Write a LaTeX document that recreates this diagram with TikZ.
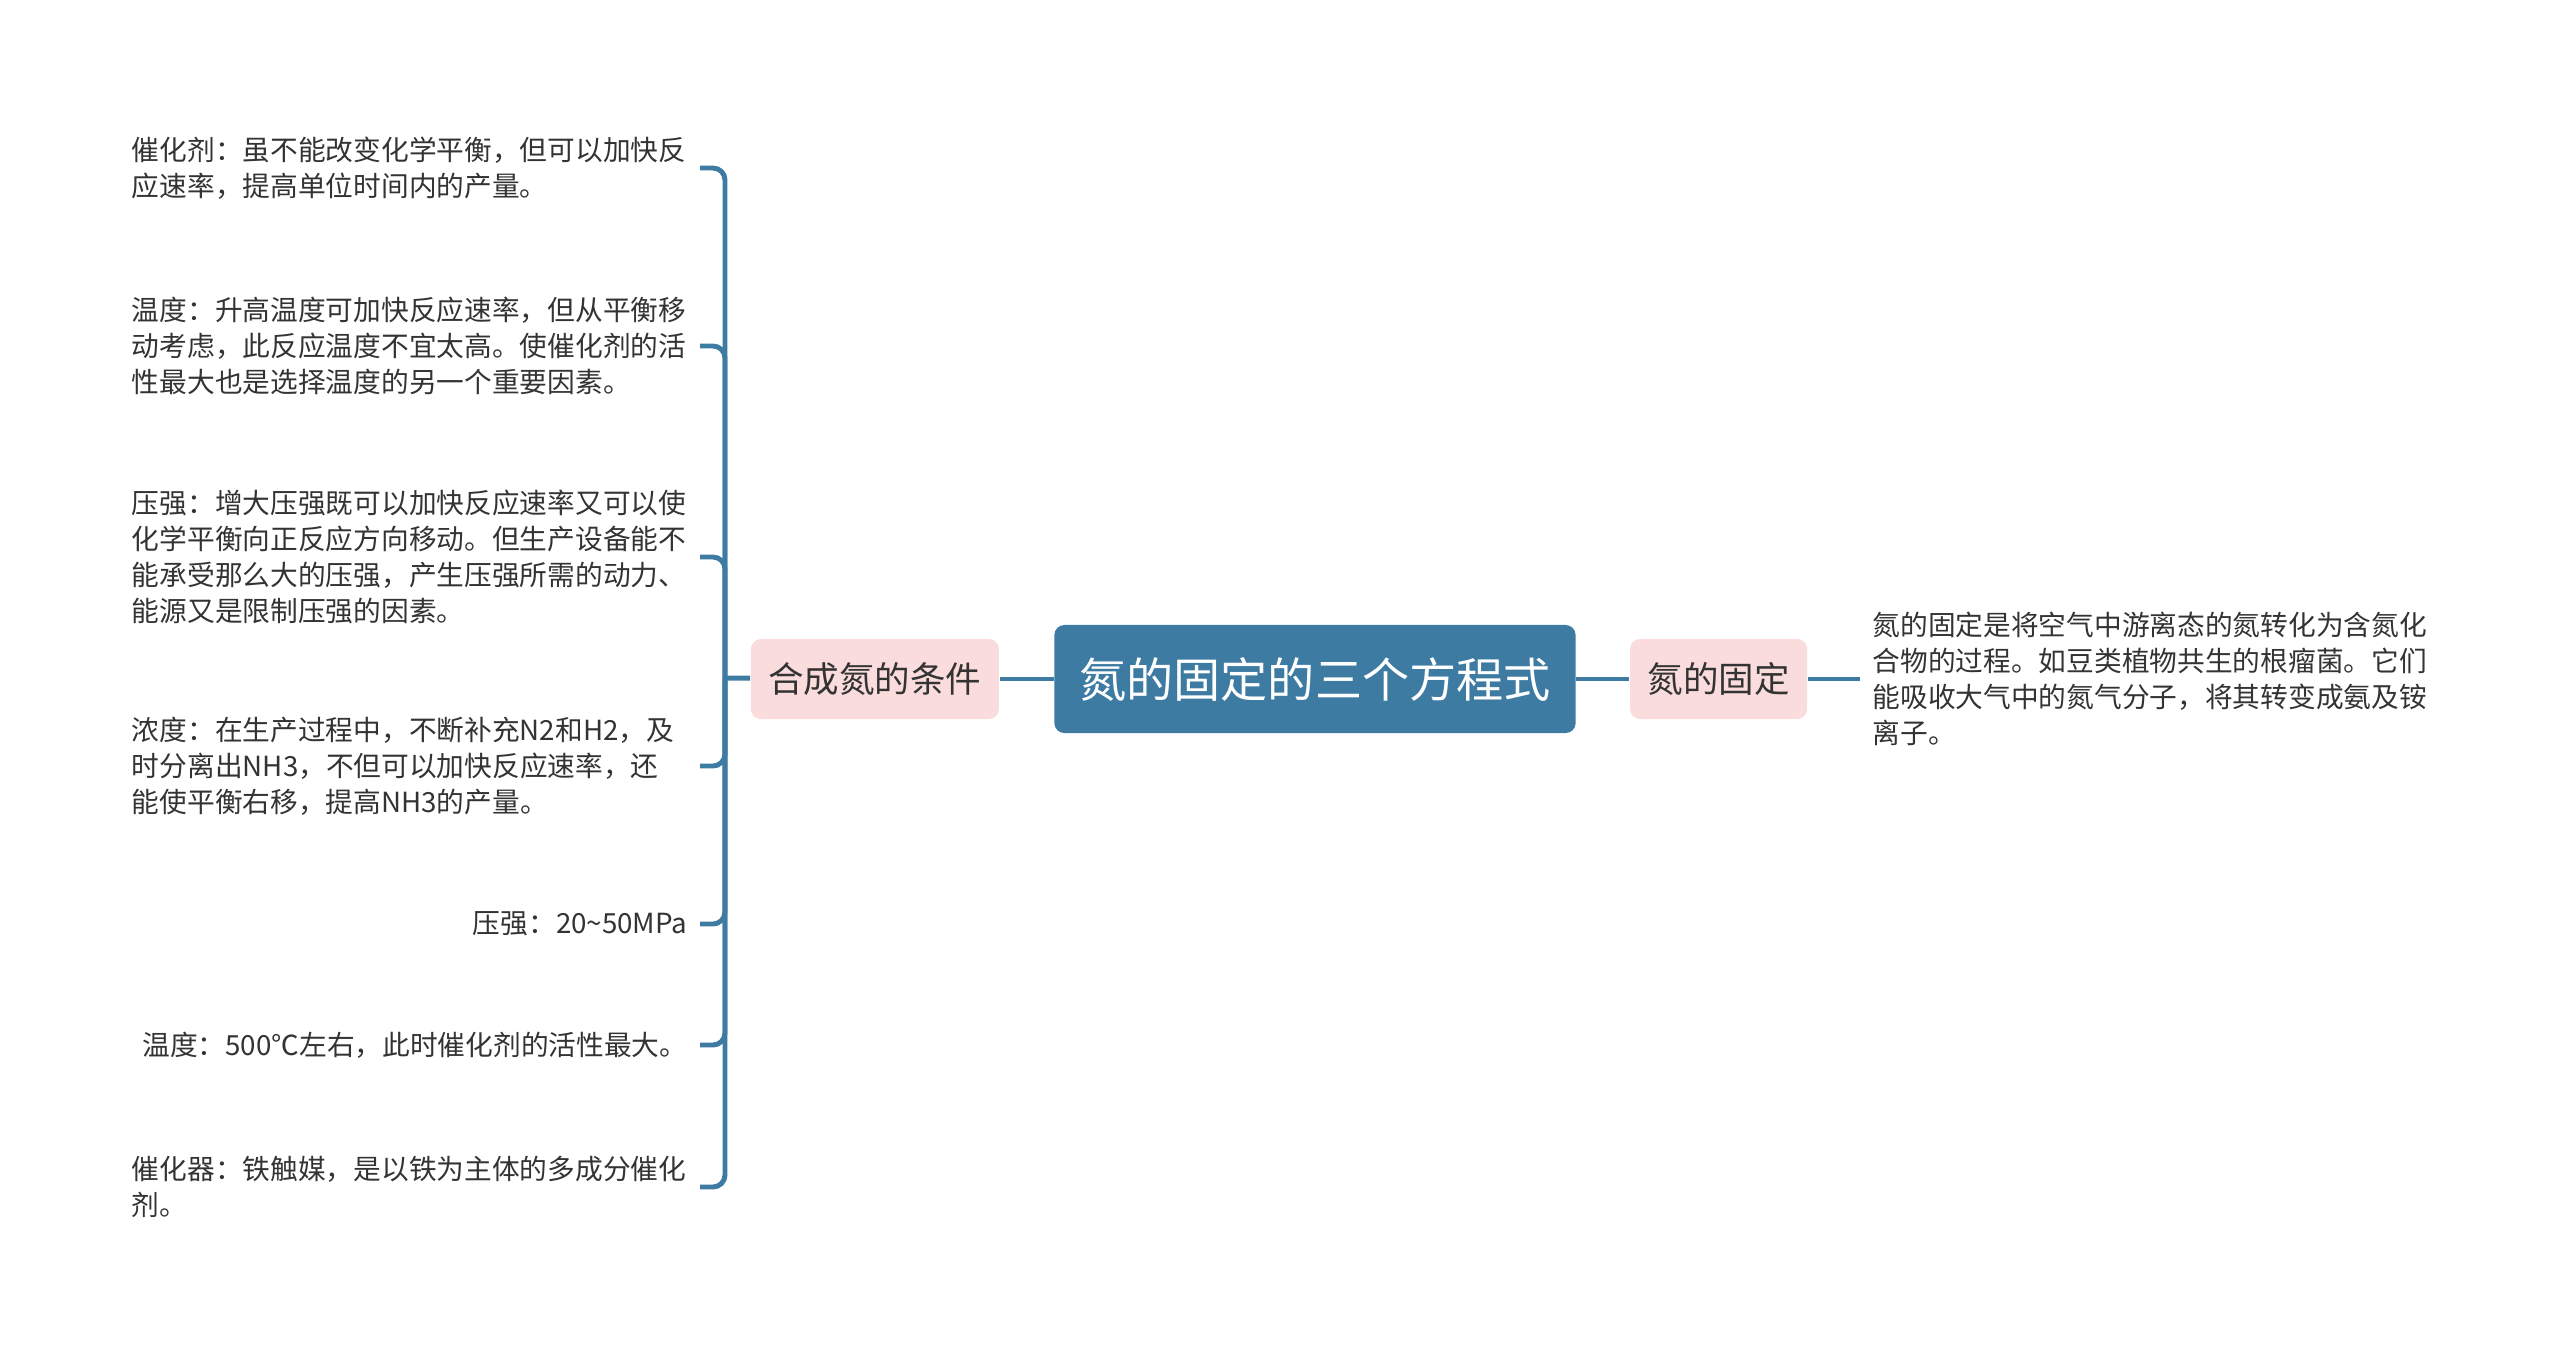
\documentclass[tikz,border=0pt]{standalone}
\usepackage{fontspec}
\setmainfont{Noto Sans CJK SC}
\usepackage{tikz}
\usetikzlibrary{positioning}
\usepackage{xcolor}
\definecolor{rootblue}{HTML}{3D7BA3}
\definecolor{branchpink}{HTML}{FADCDC}
\definecolor{textgray}{HTML}{333333}

\begin{document}
\begin{tikzpicture}[x=0.01cm, y=-0.01cm,
root/.style={
fill=rootblue,
text=white,
rounded corners=0.1cm,
inner xsep=0.25cm,
minimum height=1.08cm,
font=\fontsize{13.4}{16}\selectfont
},
branch/.style={
fill=branchpink,
text=textgray,
rounded corners=0.1cm,
inner xsep=0.175cm,
minimum height=0.8cm,
font=\fontsize{10.1}{12}\selectfont
},
leaf/.style={
text=textgray,
align=left,
inner xsep=0.12cm,
inner ysep=0pt,
font=\fontsize{7.88}{10.24}\selectfont
},
wide/.style={text width=5.55cm},
link/.style={draw=rootblue, line width=1.4pt, rounded corners=0.12cm}]

\useasboundingbox (0,0) rectangle (2560,1359);

% main topics
\node[root] (ROOT) at (1315,679) {氮的固定的三个方程式};
\node[branch] (COND) [left = 0.54cm of ROOT] {合成氮的条件};
\node[branch] (FIX) [right = 0.53cm of ROOT] {氮的固定};

% conditions
\node[leaf, wide, anchor=east] (catalyst) at (700,168) {
催化剂：虽不能改变化学平衡，但可以加快反\\
应速率，提高单位时间内的产量。
};
\node[leaf, wide, anchor=east] (temp) at (700,346) {
温度：升高温度可加快反应速率，但从平衡移\\
动考虑，此反应温度不宜太高。使催化剂的活\\
性最大也是选择温度的另一个重要因素。
};
\node[leaf, wide, anchor=east] (press) at (700,557) {
压强：增大压强既可以加快反应速率又可以使\\
化学平衡向正反应方向移动。但生产设备能不\\
能承受那么大的压强，产生压强所需的动力、\\
能源又是限制压强的因素。
};
\node[leaf, wide, anchor=east] (conc) at (700,766) {
浓度：在生产过程中，不断补充N2和H2，及\\
时分离出NH3，不但可以加快反应速率，还\\
能使平衡右移，提高NH3的产量。
};
\node[leaf, anchor=east] (pressval) at (700,924) {压强：20\textasciitilde50MPa};
\node[leaf, anchor=east] (tempval) at (700,1045) {温度：500℃左右，此时催化剂的活性最大。};
\node[leaf, wide, anchor=east] (ironcat) at (700,1187) {
催化器：铁触媒，是以铁为主体的多成分催化\\
剂。
};

% fixation
\node[leaf, wide, anchor=west] (FIXtext) [right = 0.52cm of FIX] {
氮的固定是将空气中游离态的氮转化为含氮化\\
合物的过程。如豆类植物共生的根瘤菌。它们\\
能吸收大气中的氮气分子，将其转变成氨及铵\\
离子。
};

% connections
\coordinate (hub) at (725,678);
\draw[link] (ROOT) -- (COND);
\draw[link] (ROOT) -- (FIX);
\draw[link] (FIX) -- (FIXtext);
\draw[link] (COND) -- (hub);
\foreach \leafname in {catalyst, temp, press, conc, pressval, tempval, ironcat}
  \draw[link] (hub) |- (\leafname.east);

\end{tikzpicture}
\end{document}
